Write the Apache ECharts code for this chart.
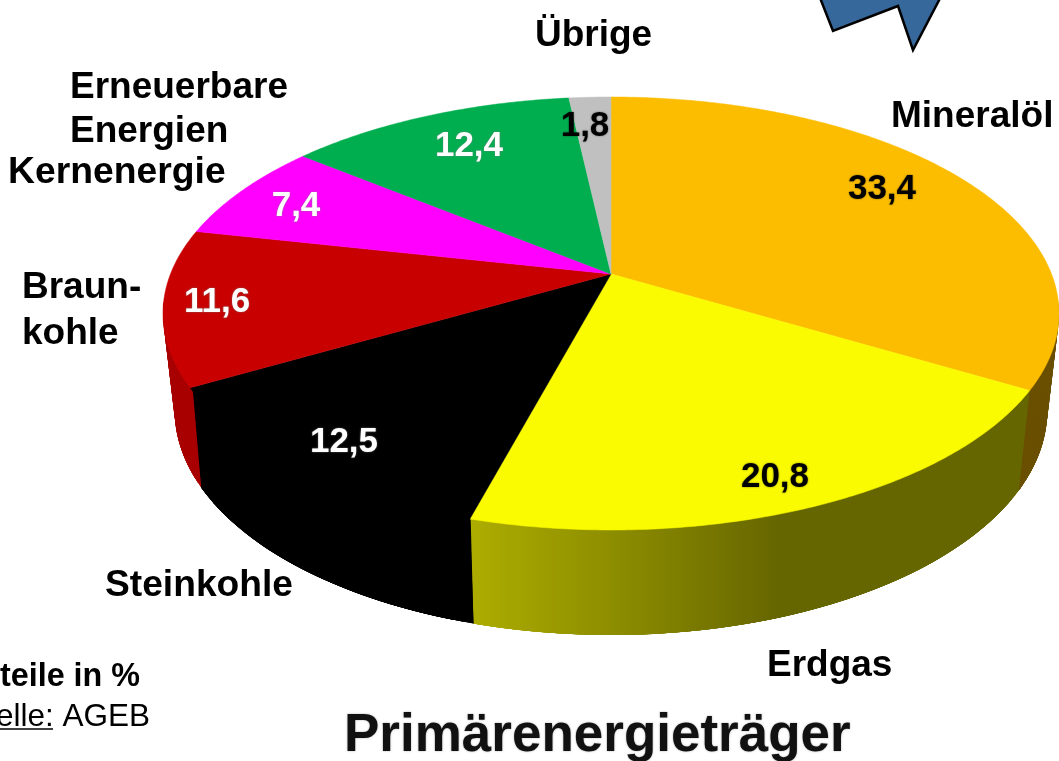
<!DOCTYPE html>
<html>
<head>
<meta charset="utf-8">
<style>
  html, body { margin: 0; padding: 0; background: #fff; }
  #chart { width: 1059px; height: 761px; }
</style>
<script src="https://cdn.jsdelivr.net/npm/echarts@6/dist/echarts.min.js"></script>
</head>
<body>
<div id="chart"></div>
<script>
// Anteile in %, im Uhrzeigersinn ab 12 Uhr
var categories = ['Mineralöl', 'Erdgas', 'Steinkohle', 'Braunkohle', 'Kernenergie', 'Erneuerbare Energien', 'Übrige'];
var values = [33.4, 20.8, 12.5, 11.6, 7.4, 12.4, 1.8];

var topColors = ['#fcbd00', '#fafa00', '#000000', '#c80000', '#ff00ff', '#00ae50', '#c0c0c0'];
var sideColors = ['#6a4f00', null, '#000000', '#a80000', '#a000a0', '#006e32', '#808080'];
var valueColors = ['#000', '#000', '#fff', '#fff', '#fff', '#fff', '#000'];

var total = values.reduce(function (a, b) { return a + b; }, 0);
var font = '"Liberation Sans", Arial, sans-serif';

// perspektivische Abbildung des Kreises auf die Scheibe
var K = 0.1824;
function rim(theta, face) {
  var u = Math.sin(theta);
  var v = -Math.cos(theta);
  var w = 1 - K * v;
  if (face === 'top') {
    return [611 + 440.5 * u / w, 274 + 209.3 * v / w];
  }
  if (face === 'inner') {
    return [611 + 438 * u / w, 274 + 208 * v / w];
  }
  return [611 + 429 * u / w, 369.6 + 217 * v / w];
}

function sliceAngles(index) {
  var before = 0;
  for (var i = 0; i < index; i++) before += values[i];
  return [before / total * Math.PI * 2, (before + values[index]) / total * Math.PI * 2];
}

function arcPoints(a0, a1, face) {
  var n = Math.max(2, Math.ceil(Math.abs(a1 - a0) / 0.01));
  var pts = [];
  for (var i = 0; i <= n; i++) {
    pts.push(rim(a0 + (a1 - a0) * i / n, face));
  }
  return pts;
}

// Mantelflaeche aus ueberlappenden Vierecken, sonst fehlt die Tangente am Rand
function renderSide(params) {
  var a = sliceAngles(params.dataIndex);
  // nur der vordere Teil ist sichtbar
  var from = Math.max(a[0], 1.7);
  var to = Math.min(a[1], Math.PI * 2 - 1.7);
  if (to <= from) return { type: 'group', children: [] };
  var fill = sideColors[params.dataIndex];
  if (!fill) {
    // Erdgas: Verlauf auf der Mantelflaeche
    fill = new echarts.graphic.LinearGradient(1029, 0, 470, 0, [
      { offset: 0, color: '#666600' },
      { offset: 0.45, color: '#666600' },
      { offset: 0.72, color: '#8a8a00' },
      { offset: 1, color: '#adad00' }
    ], true);
  }
  var top = arcPoints(from, to, 'top');
  var inner = arcPoints(from, to, 'inner');
  var bottom = arcPoints(from, to, 'bottom');
  var children = [];
  for (var i = 0; i < top.length - 1; i += 2) {
    var j = Math.min(i + 6, top.length - 1);
    children.push({
      type: 'polygon',
      shape: { points: [top[i], top[j], bottom[j], bottom[i]] },
      style: { fill: fill }
    });
    // reicht unter die Deckflaeche, damit am Rand keine helle Naht bleibt
    children.push({
      type: 'polygon',
      shape: { points: [inner[i], inner[j], bottom[j], bottom[i]] },
      style: { fill: fill }
    });
  }
  return { type: 'group', children: children };
}

function renderTop(params) {
  var a = sliceAngles(params.dataIndex);
  var color = topColors[params.dataIndex];
  var pts = [[611, 274]].concat(arcPoints(a[0], a[1], 'top'));
  return {
    type: 'polygon',
    shape: { points: pts },
    style: { fill: color, stroke: color, lineWidth: 0.5 }
  };
}

function label(text, x, y, size, opts) {
  opts = opts || {};
  return {
    type: 'text',
    x: x,
    y: y,
    z: 10,
    silent: true,
    style: {
      text: text,
      font: (opts.regular ? '' : 'bold ') + size + 'px ' + font,
      fill: opts.fill || '#000',
      textAlign: opts.align || 'left',
      textVerticalAlign: 'middle',
      textShadowColor: opts.shadow || 'transparent',
      textShadowBlur: opts.shadow ? 2 : 0
    }
  };
}

function valueLabel(index, x, y) {
  var dark = valueColors[index] === '#000';
  return label(String(values[index]).replace('.', ','), x, y, 35, {
    align: 'center',
    fill: valueColors[index],
    shadow: dark ? 'rgba(0,0,0,0.5)' : 'rgba(120,120,120,0.9)'
  });
}

var chart = echarts.init(document.getElementById('chart'), null, { renderer: 'canvas' });
chart.setOption({
  animation: false,
  backgroundColor: '#ffffff',
  series: [
    {
      type: 'custom',
      coordinateSystem: 'none',
      silent: true,
      z: 1,
      renderItem: renderSide,
      data: values.map(function (v, i) { return { name: categories[i], value: [v] }; })
    },
    {
      type: 'custom',
      coordinateSystem: 'none',
      silent: true,
      z: 2,
      renderItem: renderTop,
      data: values.map(function (v, i) { return { name: categories[i], value: [v] }; })
    }
  ],
  graphic: [
    // Pfeilspitze oben rechts, vom Bildrand abgeschnitten
    {
      type: 'polygon',
      z: 5,
      silent: true,
      shape: { points: [[815, -15], [833, 31], [898, 6], [913, 50], [947, -15]] },
      style: { fill: '#37689c', stroke: '#000', lineWidth: 2.5 }
    },
    label('Übrige', 535, 36, 37),
    label('Mineralöl', 891, 117, 37),
    label('Erneuerbare', 70, 88, 37),
    label('Energien', 70, 132, 37),
    label('Kernenergie', 8, 173, 37.3),
    label('Braun-', 22, 288, 37),
    label('kohle', 22, 334, 37),
    label('Steinkohle', 105, 586, 37.2),
    label('Erdgas', 767, 666, 37),
    valueLabel(0, 882, 189),
    valueLabel(1, 775, 477),
    valueLabel(2, 344, 442),
    valueLabel(3, 217, 302),
    valueLabel(4, 296, 206),
    valueLabel(5, 469, 146),
    valueLabel(6, 585, 126),
    label('Anteile in %', 140, 677, 32.3, { align: 'right' }),
    label('Quelle: AGEB', 150, 717, 31.5, { align: 'right', regular: true }),
    {
      type: 'line',
      z: 10,
      silent: true,
      shape: { x1: 0, y1: 729, x2: 53, y2: 729 },
      style: { stroke: '#000', lineWidth: 1.5 }
    },
    label('Primärenergieträger', 344, 736, 53, { fill: '#111', shadow: 'rgba(0,0,0,0.35)' })
  ]
});
</script>
</body>
</html>
